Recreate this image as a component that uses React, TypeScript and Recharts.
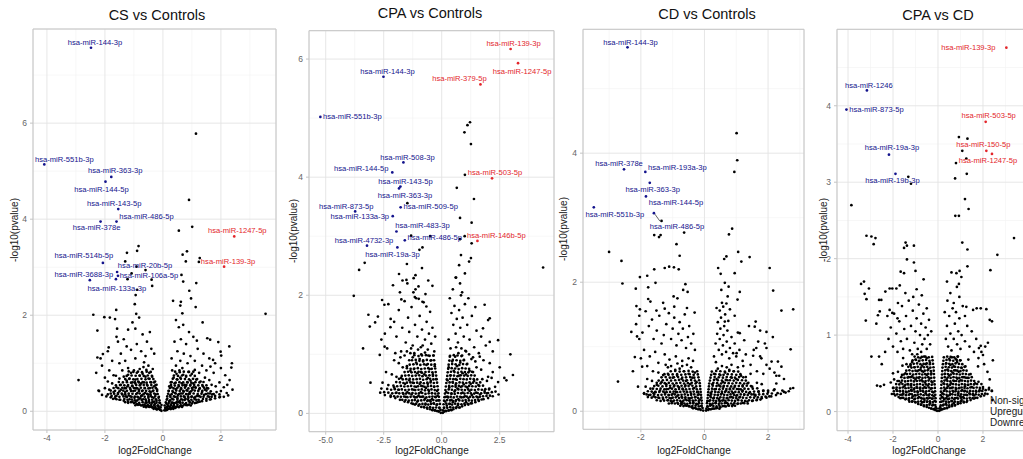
import React from 'react';
import { ScatterChart, Scatter, XAxis, YAxis, CartesianGrid, ReferenceArea } from 'recharts';

type Pt = [number, number];
type Hit = { name: string; fc: number; p: number };

// ---------- CS vs Controls ----------
const csDown: Hit[] = [
  { name: 'hsa-miR-144-3p', fc: -2.48, p: 7.57 },
  { name: 'hsa-miR-551b-3p', fc: -4.09, p: 5.14 },
  { name: 'hsa-miR-363-3p', fc: -1.78, p: 4.88 },
  { name: 'hsa-miR-144-5p', fc: -1.98, p: 4.78 },
  { name: 'hsa-miR-143-5p', fc: -1.54, p: 4.21 },
  { name: 'hsa-miR-486-5p', fc: -1.6, p: 3.95 },
  { name: 'hsa-miR-378e', fc: -2.15, p: 3.95 },
  { name: 'hsa-miR-514b-5p', fc: -2.07, p: 3.09 },
  { name: 'hsa-miR-20b-5p', fc: -1.58, p: 2.9 },
  { name: 'hsa-miR-106a-5p', fc: -1.55, p: 2.82 },
  { name: 'hsa-miR-3688-3p', fc: -2.52, p: 2.73 },
  { name: 'hsa-miR-133a-3p', fc: -1.62, p: 2.75 },
];
const csUp: Hit[] = [
  { name: 'hsa-miR-1247-5p', fc: 2.46, p: 3.64 },
  { name: 'hsa-miR-139-3p', fc: 2.11, p: 3.01 },
];
const csScatter: Pt[] = [
  [1.14,5.78],[0.9,4.4],[1.01,3.84],[0.55,3.76],[-0.84,3.44],[-0.89,3.34],[-1.24,3.3],[0.68,3.26],[0.83,3.33],[0.79,3.12],
  [1.27,3.19],[1.24,3.11],[-1.3,3.12],[-0.91,3.01],[-1.08,2.87],[-0.6,2.94],[-0.39,2.74],[-0.37,2.61],[-1.22,2.75],[-0.89,2.53],
  [-0.94,2.42],[-0.97,2.23],[-1.61,2.11],[-2.4,2.01],[-2.02,1.96],[-1.83,1.95],[-0.92,2.03],[0.64,2.84],[0.7,2.7],[1.15,2.67],
  [0.91,2.51],[0.97,2.35],[0.62,2.28],[1.13,2.17],[0.67,2.04],[1.37,1.85],[-2.26,1.68],[1.53,1.52],[1.63,1.49],[1.17,1.47],
  [1.91,1.44],[2.29,1.35],[-1.87,1.33],[1.99,1.24],[2.01,1.16],[2.38,1.0],[2.36,0.91],[-2.26,1.12],[-2.07,1.19],[-2.91,0.65],
  [-2.22,0.43],[1.97,0.3],[2.22,0.55],[1.64,0.93],[1.73,1.07],[3.54,2.03],
  [-1.65,1.92],[-1.58,1.72],[-1.6,1.55],[-1.55,1.45],[-1.2,1.7],[-1.05,1.85],[-0.95,1.72],[-0.82,1.95],[-0.7,1.6],[-0.55,1.45],
  [-0.45,1.65],[-0.4,1.3],[-1.35,1.5],[-1.25,1.35],[-1.1,1.28],[-0.9,1.4],[-0.75,1.25],[-0.6,1.15],[-1.45,1.2],[-1.75,1.05],
  [-1.9,1.25],[-2.1,0.95],[-2.15,1.1],[-1.5,1.0],[-1.3,1.05],[-0.95,1.1],[-0.65,1.02],[-0.3,1.2],[-0.5,0.95],[-1.85,0.85],
  [-2.3,0.8],[-2.0,0.7],[-1.2,0.9],[-0.8,0.88],[-1.7,0.75],
  [0.35,2.3],[0.6,2.2],[0.45,1.9],[0.55,1.75],[0.7,1.8],[0.9,1.65],[1.05,1.55],[0.62,1.5],[0.4,1.45],[0.8,1.4],
  [1.2,1.3],[0.5,1.25],[0.72,1.2],[0.95,1.15],[1.4,1.2],[1.1,1.05],[0.3,1.1],[0.6,1.05],[0.85,1.0],[1.6,1.1],
  [1.8,1.0],[1.35,0.95],[2.0,0.9],[0.45,0.95],[1.5,0.85],[1.75,0.8],[2.15,0.75],[2.3,0.65],[1.95,0.6],[2.4,0.45],[2.1,0.5],
];
const csCore: Pt[] = [
  [-0.05,0.01],[-0.1,0.03],[-0.15,0.05],[-0.2,0.04],[-0.25,0.06],[-0.3,0.07],[-0.35,0.08],[-0.4,0.09],[-0.45,0.1],[-0.5,0.1],
  [-0.55,0.11],[-0.6,0.12],[-0.7,0.13],[-0.8,0.14],[-0.9,0.15],[-1.0,0.17],[-1.1,0.19],[-1.2,0.2],[-1.35,0.22],[-1.5,0.24],
  [-1.65,0.27],[-1.8,0.29],[-1.95,0.31],[-2.1,0.34],
  [-0.08,0.08],[-0.18,0.12],[-0.28,0.15],[-0.38,0.18],[-0.48,0.2],[-0.58,0.22],[-0.68,0.25],[-0.78,0.27],[-0.88,0.3],[-0.98,0.28],
  [-1.08,0.3],[-1.18,0.33],[-1.28,0.31],[-1.4,0.35],[-1.55,0.38],[-1.7,0.4],[-1.85,0.45],[-2.0,0.48],[-2.2,0.42],
  [-0.12,0.18],[-0.22,0.22],[-0.32,0.28],[-0.42,0.32],[-0.52,0.35],[-0.62,0.38],[-0.72,0.42],[-0.82,0.45],[-0.92,0.48],[-1.02,0.42],
  [-1.12,0.46],[-1.22,0.52],[-1.32,0.48],[-1.45,0.55],[-1.6,0.5],[-1.75,0.58],[-1.9,0.62],
  [-0.15,0.28],[-0.25,0.35],[-0.35,0.42],[-0.45,0.48],[-0.55,0.55],[-0.65,0.6],[-0.75,0.58],[-0.85,0.62],[-0.95,0.66],[-1.05,0.6],
  [-1.15,0.68],[-1.25,0.64],[-1.35,0.72],[-1.5,0.68],[-1.62,0.74],
  [-0.2,0.45],[-0.3,0.52],[-0.4,0.6],[-0.5,0.68],[-0.6,0.72],[-0.7,0.78],[-0.8,0.74],[-0.9,0.8],[-1.0,0.85],[-1.1,0.8],[-1.2,0.76],[-1.4,0.85],
  [-0.27,0.62],[-0.37,0.72],[-0.47,0.8],[-0.57,0.86],[-0.67,0.92],[-0.35,0.88],[-0.22,0.55],[-0.62,0.48],[-0.88,0.38],[-1.05,0.52],
  [-0.72,0.33],[-0.5,0.28],[-0.3,0.2],[-0.42,0.4],[-0.78,0.55],[-0.95,0.58],[-1.3,0.4],[-1.6,0.32],[-1.45,0.45],[-0.15,0.1],
  [-0.6,0.18],[-0.9,0.22],[-1.15,0.25],
  [0.05,0.02],[0.1,0.02],[0.15,0.04],[0.2,0.05],[0.25,0.06],[0.3,0.06],[0.35,0.07],[0.4,0.08],[0.45,0.09],[0.5,0.1],
  [0.6,0.11],[0.7,0.12],[0.8,0.13],[0.9,0.14],[1.0,0.16],[1.1,0.17],[1.2,0.19],[1.35,0.21],[1.5,0.22],[1.65,0.25],
  [1.8,0.27],[1.95,0.29],[2.1,0.3],[2.25,0.33],
  [0.08,0.07],[0.18,0.11],[0.28,0.14],[0.38,0.17],[0.48,0.19],[0.58,0.21],[0.68,0.24],[0.78,0.26],[0.88,0.28],[0.98,0.3],
  [1.08,0.28],[1.18,0.32],[1.3,0.3],[1.42,0.34],[1.55,0.37],[1.7,0.35],[1.85,0.4],[2.0,0.42],[2.2,0.38],
  [0.12,0.16],[0.22,0.21],[0.32,0.26],[0.42,0.3],[0.52,0.34],[0.62,0.37],[0.72,0.41],[0.82,0.44],[0.92,0.4],[1.02,0.45],
  [1.12,0.5],[1.25,0.46],[1.38,0.52],[1.52,0.48],[1.68,0.55],[1.82,0.52],
  [0.15,0.26],[0.25,0.33],[0.35,0.4],[0.45,0.46],[0.55,0.52],[0.65,0.58],[0.75,0.55],[0.85,0.6],[0.95,0.64],[1.05,0.58],
  [1.15,0.66],[1.3,0.62],[1.45,0.7],[1.6,0.65],
  [0.2,0.42],[0.3,0.5],[0.4,0.58],[0.5,0.66],[0.6,0.7],[0.7,0.76],[0.8,0.72],[0.9,0.82],[1.0,0.78],[1.1,0.86],[1.25,0.8],
  [0.27,0.6],[0.37,0.7],[0.47,0.78],[0.57,0.85],[0.67,0.9],[0.32,0.85],[0.22,0.52],[0.62,0.46],[0.88,0.36],[1.05,0.5],
  [0.72,0.31],[0.5,0.27],[0.3,0.18],[0.42,0.38],[0.78,0.52],[0.95,0.55],[1.35,0.4],[1.6,0.3],[1.45,0.45],[0.15,0.09],
  [0.6,0.17],[0.9,0.21],[1.15,0.24],
];
// low-significance bulk of the CS comparison
const csBulk: Pt[] = [
  [-0.22,0.04],[-0.32,0.05],[0.14,0.03],[0.27,0.045],[0.36,0.05],[-0.09,0.03],
  [-0.15,0.07],[-0.26,0.09],[-0.36,0.08],[-0.47,0.09],[-0.58,0.085],[-0.66,0.095],[0.12,0.08],[0.24,0.085],[0.34,0.095],[0.43,0.07],[0.55,0.085],[0.66,0.09],
  [-0.05,0.13],[-0.17,0.12],[-0.3,0.125],[-0.4,0.135],[-0.52,0.13],[-0.64,0.14],[-0.75,0.12],[-0.86,0.135],[-0.95,0.125],
  [0.06,0.12],[0.16,0.135],[0.27,0.12],[0.38,0.13],[0.5,0.14],[0.62,0.125],[0.75,0.145],[0.85,0.13],[0.96,0.12],
  [-0.1,0.17],[-0.22,0.18],[-0.35,0.19],[-0.46,0.17],[-0.56,0.18],[-0.7,0.19],[-0.82,0.175],[-0.95,0.185],[-1.05,0.2],[-1.2,0.175],[-1.3,0.19],
  [0.1,0.185],[0.2,0.17],[0.33,0.18],[0.45,0.175],[0.55,0.19],[0.68,0.18],[0.8,0.17],[0.93,0.185],[1.03,0.2],[1.15,0.18],[1.27,0.2],
  [-0.12,0.23],[-0.24,0.25],[-0.37,0.24],[-0.48,0.235],[-0.6,0.25],[-0.73,0.235],[-0.84,0.245],[-0.97,0.23],[-1.07,0.245],[-1.22,0.24],[-1.33,0.255],[-1.47,0.24],[-1.6,0.25],[-1.72,0.26],
  [0.13,0.24],[0.25,0.23],[0.36,0.245],[0.5,0.24],[0.63,0.25],[0.75,0.235],[0.86,0.245],[0.98,0.24],[1.1,0.25],[1.23,0.24],[1.38,0.255],[1.5,0.26],[1.62,0.245],
  [-0.14,0.3],[-0.27,0.31],[-0.38,0.295],[-0.5,0.31],[-0.63,0.3],[-0.75,0.315],[-0.85,0.29],[-0.97,0.305],[-1.12,0.31],[-1.24,0.295],[-1.36,0.31],[-1.5,0.3],[-1.64,0.31],[-1.77,0.32],[-1.9,0.35],
  [0.15,0.31],[0.26,0.295],[0.38,0.31],[0.5,0.3],[0.62,0.31],[0.75,0.295],[0.87,0.31],[1.0,0.305],[1.12,0.3],[1.25,0.315],[1.4,0.3],[1.55,0.31],[1.68,0.3],[1.8,0.32],[1.95,0.35],
  [-0.18,0.36],[-0.3,0.37],[-0.43,0.355],[-0.55,0.365],[-0.67,0.355],[-0.8,0.37],[-0.92,0.36],[-1.05,0.365],[-1.18,0.37],[-1.3,0.355],[-1.42,0.37],[-1.55,0.36],[-1.68,0.365],[-1.8,0.37],
  [0.18,0.365],[0.3,0.355],[0.44,0.37],[0.56,0.36],[0.68,0.37],[0.8,0.355],[0.93,0.365],[1.06,0.37],[1.2,0.36],[1.33,0.365],[1.48,0.36],[1.62,0.37],[1.75,0.36],
  [-0.2,0.42],[-0.33,0.43],[-0.46,0.415],[-0.58,0.425],[-0.7,0.43],[-0.83,0.42],[-0.96,0.43],[-1.1,0.42],[-1.24,0.425],[-1.37,0.43],[-1.5,0.415],[-1.65,0.425],[-1.8,0.43],
  [0.2,0.425],[0.33,0.42],[0.46,0.43],[0.58,0.42],[0.7,0.425],[0.84,0.43],[0.97,0.415],[1.1,0.43],[1.22,0.42],[1.36,0.425],[1.5,0.43],[1.65,0.415],
  [-0.24,0.48],[-0.36,0.49],[-0.5,0.475],[-0.63,0.485],[-0.76,0.49],[-0.88,0.475],[-1.0,0.485],[-1.14,0.49],[-1.28,0.48],[-1.4,0.49],[-1.54,0.48],[-1.7,0.485],
  [0.24,0.485],[0.37,0.475],[0.5,0.49],[0.63,0.48],[0.76,0.49],[0.88,0.475],[1.0,0.485],[1.13,0.49],[1.27,0.48],[1.42,0.49],[1.56,0.475],
  [-0.26,0.54],[-0.4,0.545],[-0.53,0.535],[-0.66,0.545],[-0.8,0.54],[-0.92,0.545],[-1.06,0.535],[-1.2,0.545],[-1.33,0.54],[-1.48,0.545],[-1.62,0.54],
  [0.28,0.545],[0.41,0.535],[0.54,0.545],[0.68,0.54],[0.81,0.545],[0.94,0.535],[1.08,0.545],[1.22,0.54],[1.36,0.545],[1.5,0.54],
  [-0.3,0.6],[-0.43,0.605],[-0.56,0.595],[-0.7,0.605],[-0.83,0.6],[-0.97,0.605],[-1.1,0.595],[-1.24,0.605],[-1.38,0.6],[-1.52,0.61],
  [0.3,0.605],[0.44,0.595],[0.57,0.605],[0.7,0.6],[0.84,0.605],[0.98,0.595],[1.12,0.605],[1.26,0.6],[1.4,0.61],
  [-0.33,0.67],[-0.46,0.675],[-0.6,0.665],[-0.74,0.675],[-0.88,0.67],[-1.02,0.665],[-1.16,0.675],[-1.3,0.67],
  [0.34,0.675],[0.48,0.665],[0.62,0.675],[0.76,0.67],[0.9,0.665],[1.04,0.675],[1.18,0.67],
  [-0.38,0.74],[-0.52,0.745],[-0.66,0.735],[-0.8,0.745],[-0.94,0.74],[-1.08,0.745],[-1.25,0.735],
  [0.38,0.745],[0.52,0.735],[0.66,0.745],[0.8,0.74],[0.95,0.745],[1.1,0.735],
  [-0.42,0.82],[-0.56,0.825],[-0.72,0.815],[-0.86,0.825],[-1.02,0.82],[-1.18,0.83],
  [0.42,0.825],[0.58,0.815],[0.72,0.825],[0.88,0.82],[1.05,0.825],
];

// ---------- CPA vs Controls ----------
const cpaDown: Hit[] = [
  { name: 'hsa-miR-144-3p', fc: -2.51, p: 5.7 },
  { name: 'hsa-miR-551b-3p', fc: -5.23, p: 5.02 },
  { name: 'hsa-miR-508-3p', fc: -1.65, p: 4.25 },
  { name: 'hsa-miR-144-5p', fc: -2.13, p: 4.08 },
  { name: 'hsa-miR-143-5p', fc: -1.78, p: 3.84 },
  { name: 'hsa-miR-363-3p', fc: -1.84, p: 3.81 },
  { name: 'hsa-miR-509-5p', fc: -1.77, p: 3.49 },
  { name: 'hsa-miR-873-5p', fc: -3.73, p: 3.42 },
  { name: 'hsa-miR-133a-3p', fc: -2.11, p: 3.34 },
  { name: 'hsa-miR-483-3p', fc: -1.95, p: 3.08 },
  { name: 'hsa-miR-486-5p', fc: -1.59, p: 2.93 },
  { name: 'hsa-miR-4732-3p', fc: -3.22, p: 2.84 },
  { name: 'hsa-miR-19a-3p', fc: -1.91, p: 2.81 },
];
const cpaUp: Hit[] = [
  { name: 'hsa-miR-139-3p', fc: 2.97, p: 6.17 },
  { name: 'hsa-miR-1247-5p', fc: 3.29, p: 5.93 },
  { name: 'hsa-miR-379-5p', fc: 1.67, p: 5.57 },
  { name: 'hsa-miR-503-5p', fc: 2.17, p: 3.98 },
  { name: 'hsa-miR-146b-5p', fc: 1.54, p: 2.92 },
];
const cpaScatter: Pt[] = [
  [1.22,4.93],[1.11,4.88],[0.98,4.76],[1.26,4.56],[1.0,4.04],[0.65,3.82],[1.39,3.63],[0.79,3.31],[1.29,3.23],[-1.48,3.56],
  [-1.32,3.01],[-0.5,3.0],[0.79,2.95],[0.99,3.0],[1.29,2.88],[-0.83,2.81],[-0.96,2.77],[0.83,2.68],[-1.5,2.53],[-3.32,2.55],
  [-3.56,2.43],[1.18,2.57],[1.26,2.63],[0.75,2.51],[1.0,2.37],[0.6,2.3],[0.79,2.2],[0.83,2.0],[-0.85,2.46],[-1.13,2.34],
  [-1.84,2.36],[-1.21,2.29],[-1.52,2.26],[-1.69,2.25],[-2.1,2.17],[-0.4,2.16],[-1.13,2.1],[-3.79,1.99],[-1.16,1.97],[-0.99,1.94],
  [-1.74,1.93],[-2.57,1.92],[-2.47,1.84],[-0.83,1.89],[-0.66,1.81],[-3.16,1.67],[-2.75,1.64],[-3.1,1.47],[-2.87,1.54],[1.85,1.84],
  [2.07,1.61],[2.0,1.58],[1.78,1.44],[2.43,1.24],[2.07,1.21],[2.96,1.0],[3.07,0.65],[2.79,0.56],[2.43,0.53],[4.37,2.47],
  [-3.39,1.1],[-3.07,0.52],[-2.67,0.99],[-2.46,1.13],[-2.21,1.46],[1.64,0.96],[2.07,0.85],
  [-2.3,1.85],[-2.2,1.6],[-2.05,1.55],[-1.95,1.3],[-1.85,1.75],[-1.7,1.45],[-1.6,1.9],[-1.55,1.2],[-1.45,1.62],[-1.4,1.38],
  [-1.3,1.8],[-1.25,1.15],[-1.15,1.5],[-1.1,1.95],[-1.05,1.3],[-0.95,1.65],[-0.9,1.12],[-0.85,1.42],[-0.78,1.88],[-0.72,1.25],
  [-0.65,1.55],[-0.6,1.08],[-0.55,1.35],[-0.5,1.72],[-0.45,1.18],[-0.4,1.45],[-0.32,1.05],[-0.28,1.3],[-2.45,1.35],[-2.6,1.25],
  [-2.35,1.1],[-1.75,1.05],[-2.0,1.02],[-1.35,1.02],[-1.0,2.15],[-1.22,2.05],[-0.7,2.02],[-1.8,2.05],[-1.48,2.2],[-0.58,2.25],
  [0.35,1.95],[0.42,1.7],[0.5,1.5],[0.55,1.82],[0.6,1.35],[0.65,1.6],[0.7,1.2],[0.75,1.75],[0.8,1.45],[0.85,1.1],
  [0.9,1.62],[0.95,1.3],[1.0,1.85],[1.05,1.05],[1.1,1.5],[1.2,1.25],[1.3,1.65],[1.4,1.12],[1.5,1.4],[1.6,1.02],
  [1.7,1.3],[1.45,1.8],[0.3,1.25],[0.38,1.1],[0.48,2.1],[0.62,2.3],[0.88,2.05],[1.15,1.95],[1.9,1.15],[2.2,1.05],
  [1.35,0.95],[1.8,0.9],[2.5,0.78],[2.2,0.7],[2.7,0.6],[2.0,0.62],
];
const cpaCore: Pt[] = [
  [-0.04,0.01],[-0.12,0.03],[-0.2,0.04],[-0.3,0.05],[-0.4,0.06],[-0.5,0.07],[-0.62,0.08],[-0.75,0.1],[-0.88,0.11],[-1.0,0.13],
  [-1.15,0.15],[-1.3,0.17],[-1.45,0.19],[-1.6,0.2],[-1.8,0.23],[-2.0,0.26],[-2.2,0.28],[-2.45,0.31],[-2.65,0.35],
  [-0.1,0.1],[-0.22,0.14],[-0.35,0.17],[-0.48,0.2],[-0.6,0.22],[-0.72,0.25],[-0.85,0.28],[-1.0,0.3],[-1.15,0.27],[-1.3,0.32],
  [-1.48,0.36],[-1.65,0.33],[-1.85,0.4],[-2.05,0.44],[-2.3,0.48],[-2.55,0.52],
  [-0.15,0.22],[-0.28,0.28],[-0.42,0.34],[-0.55,0.38],[-0.68,0.43],[-0.82,0.46],[-0.95,0.5],[-1.1,0.45],[-1.25,0.52],[-1.4,0.56],
  [-1.58,0.5],[-1.75,0.6],[-1.95,0.62],[-2.15,0.66],[-2.4,0.7],
  [-0.2,0.38],[-0.33,0.45],[-0.47,0.55],[-0.6,0.6],[-0.75,0.66],[-0.9,0.7],[-1.05,0.68],[-1.2,0.75],[-1.35,0.72],[-1.5,0.8],
  [-1.68,0.78],[-1.85,0.85],[-2.05,0.9],
  [-0.25,0.58],[-0.38,0.66],[-0.52,0.75],[-0.66,0.82],[-0.8,0.88],[-0.95,0.92],[-1.1,0.86],[-1.25,0.95],[-1.4,0.9],[-1.6,0.98],[-1.78,0.95],
  [-0.3,0.8],[-0.45,0.9],[-0.58,0.98],[-0.72,1.03],[-0.88,1.0],[-1.02,1.08],[-1.18,1.02],[-1.32,1.1],[-1.5,1.05],
  [-0.35,0.98],[-0.82,1.15],[-0.6,0.5],[-0.9,0.36],[-1.2,0.4],[-0.42,0.24],[-0.7,0.15],[-1.05,0.2],[-1.55,0.28],[-1.95,0.35],
  [-2.6,0.42],[-0.18,0.3],[-0.05,0.06],
  [0.05,0.01],[0.12,0.03],[0.2,0.04],[0.3,0.05],[0.4,0.06],[0.5,0.07],[0.62,0.09],[0.75,0.1],[0.88,0.12],[1.0,0.14],
  [1.15,0.15],[1.3,0.17],[1.45,0.19],[1.6,0.21],[1.8,0.24],[2.0,0.26],[2.2,0.29],[2.45,0.32],
  [0.1,0.09],[0.22,0.13],[0.35,0.16],[0.48,0.19],[0.6,0.21],[0.72,0.24],[0.85,0.27],[1.0,0.29],[1.15,0.26],[1.3,0.31],
  [1.48,0.35],[1.65,0.32],[1.85,0.38],[2.05,0.42],[2.3,0.45],
  [0.15,0.2],[0.28,0.27],[0.42,0.33],[0.55,0.37],[0.68,0.42],[0.82,0.45],[0.95,0.49],[1.1,0.44],[1.25,0.5],[1.4,0.55],
  [1.58,0.48],[1.75,0.58],[1.95,0.55],[2.15,0.6],
  [0.2,0.36],[0.33,0.44],[0.47,0.53],[0.6,0.58],[0.75,0.64],[0.9,0.68],[1.05,0.66],[1.2,0.72],[1.35,0.7],[1.5,0.78],[1.7,0.74],
  [0.25,0.56],[0.38,0.64],[0.52,0.72],[0.66,0.8],[0.8,0.86],[0.95,0.9],[1.1,0.84],[1.28,0.92],[1.45,0.88],
  [0.3,0.78],[0.45,0.88],[0.58,0.96],[0.72,1.02],[0.88,0.98],[1.02,1.06],[1.18,1.0],
  [0.35,0.96],[0.62,1.12],[0.6,0.48],[0.9,0.35],[1.2,0.38],[0.42,0.23],[0.7,0.14],[1.05,0.19],[1.55,0.27],[1.95,0.34],
  [0.18,0.28],[0.05,0.05],
];
const cpaBulk: Pt[] = [
  [-0.15,0.04],[-0.28,0.05],[-0.4,0.055],[0.16,0.045],[0.3,0.05],[0.42,0.055],
  [-0.1,0.09],[-0.24,0.1],[-0.37,0.095],[-0.5,0.105],[-0.63,0.1],[-0.77,0.11],[0.1,0.1],[0.24,0.095],[0.37,0.105],[0.5,0.1],[0.64,0.11],[0.78,0.1],
  [-0.08,0.16],[-0.2,0.155],[-0.33,0.165],[-0.46,0.16],[-0.58,0.15],[-0.7,0.165],[-0.83,0.16],[-0.96,0.155],[-1.1,0.165],[-1.23,0.16],
  [0.08,0.155],[0.2,0.165],[0.33,0.16],[0.45,0.15],[0.58,0.165],[0.71,0.16],[0.85,0.155],[0.98,0.165],[1.12,0.16],[1.25,0.17],
  [-0.1,0.22],[-0.23,0.215],[-0.36,0.225],[-0.5,0.22],[-0.62,0.21],[-0.75,0.225],[-0.88,0.22],[-1.02,0.215],[-1.16,0.225],[-1.28,0.22],[-1.42,0.215],[-1.56,0.225],[-1.7,0.23],
  [0.1,0.215],[0.23,0.225],[0.36,0.22],[0.49,0.21],[0.62,0.225],[0.76,0.22],[0.9,0.215],[1.03,0.225],[1.17,0.22],[1.3,0.215],[1.44,0.225],[1.58,0.23],[1.72,0.235],
  [-0.12,0.28],[-0.26,0.275],[-0.4,0.285],[-0.53,0.28],[-0.66,0.27],[-0.8,0.285],[-0.93,0.28],[-1.07,0.275],[-1.2,0.285],[-1.34,0.28],[-1.48,0.275],[-1.62,0.285],[-1.76,0.28],[-1.9,0.285],[-2.05,0.29],[-2.2,0.3],
  [0.12,0.275],[0.25,0.285],[0.39,0.28],[0.52,0.27],[0.66,0.285],[0.8,0.28],[0.94,0.275],[1.08,0.285],[1.22,0.28],[1.36,0.275],[1.5,0.285],[1.64,0.28],[1.78,0.29],[1.93,0.295],[2.08,0.3],
  [-0.14,0.34],[-0.28,0.335],[-0.42,0.345],[-0.56,0.34],[-0.7,0.33],[-0.84,0.345],[-0.98,0.34],[-1.12,0.335],[-1.26,0.345],[-1.4,0.34],[-1.54,0.335],[-1.68,0.345],[-1.83,0.34],[-1.98,0.345],[-2.13,0.34],[-2.3,0.35],[-2.48,0.36],
  [0.14,0.335],[0.28,0.345],[0.42,0.34],[0.56,0.33],[0.7,0.345],[0.84,0.34],[0.98,0.335],[1.12,0.345],[1.26,0.34],[1.4,0.335],[1.55,0.345],[1.7,0.34],[1.85,0.35],[2.0,0.345],[2.16,0.36],[2.32,0.37],
  [-0.16,0.4],[-0.3,0.395],[-0.44,0.405],[-0.58,0.4],[-0.72,0.39],[-0.86,0.405],[-1.0,0.4],[-1.14,0.395],[-1.28,0.405],[-1.42,0.4],[-1.57,0.395],[-1.72,0.405],[-1.87,0.4],[-2.02,0.41],[-2.18,0.4],[-2.35,0.415],
  [0.16,0.395],[0.3,0.405],[0.44,0.4],[0.58,0.39],[0.72,0.405],[0.86,0.4],[1.0,0.395],[1.14,0.405],[1.28,0.4],[1.43,0.395],[1.58,0.405],[1.73,0.4],[1.88,0.41],[2.04,0.405],
  [-0.18,0.46],[-0.32,0.455],[-0.46,0.465],[-0.6,0.46],[-0.74,0.45],[-0.88,0.465],[-1.02,0.46],[-1.17,0.455],[-1.32,0.465],[-1.46,0.46],[-1.61,0.455],[-1.76,0.465],[-1.92,0.46],[-2.08,0.47],
  [0.18,0.455],[0.32,0.465],[0.46,0.46],[0.6,0.45],[0.74,0.465],[0.88,0.46],[1.03,0.455],[1.18,0.465],[1.32,0.46],[1.47,0.455],[1.62,0.465],[1.78,0.47],
  [-0.2,0.52],[-0.34,0.515],[-0.48,0.525],[-0.62,0.52],[-0.77,0.51],[-0.91,0.525],[-1.06,0.52],[-1.2,0.515],[-1.35,0.525],[-1.5,0.52],[-1.65,0.515],[-1.8,0.525],[-1.96,0.53],
  [0.2,0.515],[0.34,0.525],[0.48,0.52],[0.62,0.51],[0.77,0.525],[0.91,0.52],[1.06,0.515],[1.2,0.525],[1.35,0.52],[1.5,0.515],[1.66,0.525],
  [-0.22,0.58],[-0.36,0.575],[-0.5,0.585],[-0.65,0.58],[-0.8,0.57],[-0.94,0.585],[-1.08,0.58],[-1.23,0.575],[-1.38,0.585],[-1.53,0.58],[-1.68,0.575],[-1.84,0.585],
  [0.22,0.575],[0.36,0.585],[0.5,0.58],[0.65,0.57],[0.8,0.585],[0.94,0.58],[1.08,0.575],[1.23,0.585],[1.38,0.58],[1.53,0.575],
  [-0.24,0.64],[-0.38,0.635],[-0.53,0.645],[-0.68,0.64],[-0.83,0.63],[-0.97,0.645],[-1.12,0.64],[-1.27,0.635],[-1.42,0.645],[-1.57,0.64],[-1.72,0.635],
  [0.24,0.635],[0.38,0.645],[0.53,0.64],[0.68,0.63],[0.82,0.645],[0.97,0.64],[1.12,0.635],[1.27,0.645],[1.42,0.64],
  [-0.26,0.7],[-0.4,0.695],[-0.55,0.705],[-0.7,0.7],[-0.85,0.69],[-1.0,0.705],[-1.15,0.7],[-1.3,0.695],[-1.45,0.705],[-1.6,0.7],
  [0.26,0.695],[0.4,0.705],[0.55,0.7],[0.7,0.69],[0.85,0.705],[1.0,0.7],[1.15,0.695],[1.3,0.705],
  [-0.28,0.76],[-0.43,0.755],[-0.58,0.765],[-0.73,0.76],[-0.88,0.75],[-1.03,0.765],[-1.18,0.76],[-1.34,0.755],[-1.5,0.765],
  [0.28,0.755],[0.43,0.765],[0.58,0.76],[0.73,0.75],[0.88,0.765],[1.03,0.76],[1.18,0.755],
  [-0.3,0.83],[-0.45,0.825],[-0.6,0.835],[-0.76,0.83],[-0.92,0.82],[-1.07,0.835],[-1.22,0.83],[-1.38,0.825],
  [0.3,0.825],[0.45,0.835],[0.6,0.83],[0.76,0.82],[0.92,0.835],[1.08,0.83],
  [-0.33,0.9],[-0.48,0.895],[-0.64,0.905],[-0.8,0.9],[-0.96,0.89],[-1.12,0.905],[-1.28,0.9],
  [0.33,0.895],[0.48,0.905],[0.64,0.9],[0.8,0.89],[0.96,0.905],
  [-0.36,0.98],[-0.52,0.975],[-0.68,0.985],[-0.85,0.98],[-1.0,0.97],[-1.18,0.985],
  [0.36,0.975],[0.52,0.985],[0.68,0.98],[0.85,0.97],
];

// ---------- CD vs Controls ----------
const cdDown: Hit[] = [
  { name: 'hsa-miR-144-3p', fc: -2.42, p: 5.64 },
  { name: 'hsa-miR-378e', fc: -2.53, p: 3.75 },
  { name: 'hsa-miR-193a-3p', fc: -1.86, p: 3.71 },
  { name: 'hsa-miR-363-3p', fc: -1.72, p: 3.54 },
  { name: 'hsa-miR-144-5p', fc: -1.84, p: 3.33 },
  { name: 'hsa-miR-551b-3p', fc: -3.48, p: 3.16 },
  { name: 'hsa-miR-486-5p', fc: -1.59, p: 3.07 },
];
const cdUp: Hit[] = [];
const cdScatter: Pt[] = [
  [1.01,4.31],[1.03,3.89],[0.94,3.71],[0.87,2.83],[-1.35,2.95],[-1.58,2.73],[-1.43,2.7],[-1.38,2.73],[-0.64,2.77],[-0.88,2.59],
  [-0.78,2.41],[0.77,2.74],[-3.0,2.47],[-2.61,2.33],[-2.58,1.98],[-2.03,2.08],[-1.8,2.1],[-1.58,2.2],[-1.25,2.22],[-1.11,2.24],
  [-0.96,2.23],[-0.81,2.2],[-1.54,1.99],[-2.16,1.9],[-1.77,1.92],[-1.77,1.74],[-0.6,1.97],[-0.67,1.88],[-0.53,1.85],[-0.97,1.78],
  [-1.25,1.59],[-1.51,1.56],[-2.14,1.63],[-2.03,1.58],[-0.31,1.53],[-2.3,1.23],[-2.12,1.16],[-2.19,0.84],[-1.96,0.69],[-2.72,0.46],
  [-2.09,0.38],[-1.9,0.28],[0.43,2.22],[0.51,2.13],[0.64,1.99],[0.76,1.93],[0.53,1.88],[0.73,1.78],[0.69,1.67],[0.59,1.62],
  [0.48,1.56],[0.64,1.39],[0.95,2.14],[1.11,1.85],[1.04,1.73],[1.06,2.47],[1.16,2.32],[1.42,2.39],[0.69,2.4],[0.62,2.36],
  [2.05,2.22],[2.16,1.87],[2.42,1.56],[2.79,1.58],[1.61,1.39],[1.58,1.31],[1.95,1.23],[1.69,1.08],[1.63,0.98],[1.95,0.98],
  [1.53,0.86],[1.79,0.82],[2.11,0.77],[2.31,0.77],[2.42,0.69],[2.71,0.96],[2.26,0.55],[2.26,0.43],[2.79,0.36],[2.7,0.35],
  [1.11,1.21],[1.01,0.9],
  [-2.15,1.35],[-2.05,1.48],[-1.95,1.22],[-1.85,1.55],[-1.75,1.32],[-1.65,1.42],[-1.6,1.12],[-1.5,1.25],[-1.42,1.48],[-1.35,1.05],
  [-1.28,1.18],[-1.2,1.35],[-1.12,1.52],[-1.05,1.12],[-1.0,1.28],[-0.95,1.45],[-0.88,1.02],[-0.82,1.2],[-0.78,1.38],[-0.72,1.1],
  [-0.68,1.28],[-0.62,1.5],[-0.58,0.98],[-0.52,1.15],[-0.48,1.32],[-0.42,1.05],[-0.35,1.2],[-0.3,0.95],[-1.9,0.95],[-2.0,0.82],
  [-1.72,0.85],[-1.55,0.92],[-1.25,0.88],[-1.1,0.8],[-0.9,0.85],[-0.7,0.78],[-0.5,0.82],[-1.45,0.75],[-1.8,0.7],[-2.25,0.62],
  [-1.62,0.62],[-1.15,0.68],[-0.95,1.62],[-1.3,1.68],[-0.85,1.75],[-0.55,1.6],[-1.7,1.7],[-2.05,1.12],
  [0.35,1.05],[0.4,1.2],[0.42,1.38],[0.45,0.95],[0.48,1.12],[0.5,1.28],[0.52,1.45],[0.55,0.88],[0.58,1.02],[0.6,1.18],
  [0.62,1.32],[0.65,1.5],[0.68,0.92],[0.7,1.08],[0.72,1.25],[0.75,1.4],[0.78,0.82],[0.8,0.98],[0.85,1.15],[0.9,0.9],
  [0.95,1.05],[1.0,0.85],[1.05,1.22],[1.1,0.95],[1.2,0.78],[1.3,0.88],[1.45,0.72],[1.55,0.95],[1.65,0.62],[1.75,0.85],
  [1.85,0.58],[1.95,0.72],[2.05,0.66],[2.2,0.6],[2.35,0.55],[2.5,0.5],[0.3,0.85],[0.38,1.6],[0.55,1.68],[0.8,1.58],
  [0.95,1.48],[1.25,1.1],[1.4,1.32],[1.75,1.25],[1.9,1.05],[2.15,1.15],
];
const cdCore: Pt[] = [
  [-0.04,0.01],[-0.12,0.02],[-0.2,0.03],[-0.3,0.05],[-0.4,0.06],[-0.5,0.08],[-0.6,0.09],[-0.72,0.11],[-0.85,0.13],[-1.0,0.15],
  [-1.15,0.17],[-1.3,0.19],[-1.45,0.21],[-1.6,0.23],[-1.75,0.25],[-1.9,0.27],
  [-0.1,0.08],[-0.22,0.11],[-0.35,0.14],[-0.48,0.17],[-0.6,0.19],[-0.72,0.22],[-0.85,0.24],[-1.0,0.27],[-1.12,0.25],[-1.25,0.29],
  [-1.4,0.32],[-1.55,0.3],[-1.7,0.35],[-1.85,0.38],
  [-0.15,0.18],[-0.28,0.22],[-0.42,0.27],[-0.55,0.3],[-0.68,0.34],[-0.8,0.37],[-0.95,0.4],[-1.08,0.36],[-1.2,0.42],[-1.35,0.45],
  [-1.5,0.41],[-1.65,0.47],[-1.8,0.5],
  [-0.2,0.3],[-0.32,0.36],[-0.45,0.42],[-0.58,0.47],[-0.72,0.5],[-0.86,0.55],[-1.0,0.52],[-1.15,0.58],[-1.3,0.56],[-1.45,0.6],
  [-0.25,0.45],[-0.38,0.52],[-0.5,0.58],[-0.65,0.62],[-0.78,0.66],[-0.92,0.64],[-1.05,0.7],[-1.22,0.72],
  [-0.3,0.6],[-0.42,0.68],[-0.55,0.72],[-0.7,0.7],[-0.85,0.74],[-0.36,0.78],
  [-0.6,0.4],[-0.9,0.3],[-1.2,0.34],[-0.45,0.2],[-0.7,0.14],[-1.05,0.2],[-1.6,0.28],[-0.18,0.26],[-0.06,0.05],
  [0.05,0.01],[0.12,0.02],[0.2,0.03],[0.3,0.04],[0.4,0.05],[0.5,0.06],[0.62,0.08],[0.75,0.09],[0.9,0.1],[1.05,0.12],
  [1.2,0.13],[1.35,0.15],[1.5,0.16],[1.65,0.18],[1.8,0.2],[1.95,0.21],[2.1,0.23],[2.25,0.25],[2.4,0.27],[2.55,0.29],
  [0.1,0.07],[0.22,0.1],[0.35,0.13],[0.48,0.15],[0.6,0.17],[0.72,0.2],[0.85,0.22],[1.0,0.24],[1.12,0.22],[1.25,0.26],
  [1.4,0.28],[1.55,0.26],[1.7,0.3],[1.85,0.32],[2.0,0.3],[2.2,0.34],[2.45,0.32],
  [0.15,0.16],[0.28,0.2],[0.42,0.25],[0.55,0.28],[0.68,0.32],[0.8,0.35],[0.95,0.38],[1.08,0.34],[1.2,0.4],[1.35,0.43],
  [1.5,0.38],[1.65,0.44],[1.8,0.42],
  [0.2,0.28],[0.32,0.34],[0.45,0.4],[0.58,0.45],[0.72,0.48],[0.86,0.52],[1.0,0.5],[1.15,0.55],[1.3,0.53],[1.45,0.58],
  [0.25,0.42],[0.38,0.5],[0.5,0.56],[0.65,0.6],[0.78,0.64],[0.92,0.62],[1.05,0.68],[1.22,0.7],
  [0.3,0.58],[0.42,0.66],[0.55,0.7],[0.7,0.68],[0.85,0.72],[0.36,0.76],
  [0.6,0.38],[0.9,0.28],[1.2,0.32],[0.45,0.19],[0.7,0.13],[1.05,0.18],[1.6,0.24],[0.18,0.24],[0.06,0.04],
];
const cdBulk: Pt[] = [
  [-0.15,0.035],[-0.26,0.04],[-0.36,0.045],[0.14,0.035],[0.25,0.04],[0.36,0.045],[0.47,0.04],
  [-0.09,0.08],[-0.18,0.075],[-0.28,0.085],[-0.38,0.08],[-0.47,0.075],[-0.56,0.085],[-0.66,0.08],[-0.76,0.085],
  [0.09,0.075],[0.18,0.085],[0.28,0.08],[0.38,0.075],[0.47,0.085],[0.57,0.08],[0.67,0.075],[0.77,0.085],[0.87,0.08],[0.96,0.085],
  [-0.08,0.12],[-0.17,0.125],[-0.26,0.115],[-0.35,0.12],[-0.45,0.125],[-0.54,0.115],[-0.63,0.12],[-0.73,0.125],[-0.83,0.115],[-0.93,0.12],[-1.03,0.125],[-1.12,0.12],
  [0.08,0.125],[0.17,0.115],[0.26,0.12],[0.35,0.125],[0.45,0.115],[0.54,0.12],[0.64,0.125],[0.74,0.115],[0.84,0.12],[0.94,0.125],[1.04,0.115],[1.14,0.12],[1.25,0.125],[1.36,0.12],
  [-0.09,0.165],[-0.18,0.16],[-0.28,0.17],[-0.37,0.165],[-0.47,0.16],[-0.56,0.17],[-0.66,0.165],[-0.76,0.16],[-0.86,0.17],[-0.96,0.165],[-1.06,0.16],[-1.16,0.17],[-1.27,0.165],[-1.38,0.16],[-1.5,0.17],
  [0.09,0.16],[0.18,0.17],[0.28,0.165],[0.37,0.16],[0.47,0.17],[0.56,0.165],[0.66,0.16],[0.76,0.17],[0.86,0.165],[0.96,0.16],[1.06,0.17],[1.17,0.165],[1.28,0.16],[1.4,0.17],[1.52,0.165],[1.64,0.17],[1.76,0.18],
  [-0.1,0.21],[-0.2,0.205],[-0.3,0.215],[-0.4,0.21],[-0.5,0.205],[-0.6,0.215],[-0.7,0.21],[-0.8,0.205],[-0.9,0.215],[-1.0,0.21],[-1.1,0.205],[-1.2,0.215],[-1.31,0.21],[-1.42,0.205],[-1.54,0.215],[-1.66,0.21],[-1.78,0.22],
  [0.1,0.205],[0.2,0.215],[0.3,0.21],[0.4,0.205],[0.5,0.215],[0.6,0.21],[0.7,0.205],[0.8,0.215],[0.9,0.21],[1.0,0.205],[1.1,0.215],[1.21,0.21],[1.32,0.205],[1.44,0.215],[1.56,0.21],[1.68,0.215],[1.8,0.22],[1.92,0.225],[2.04,0.23],
  [-0.11,0.255],[-0.21,0.25],[-0.32,0.26],[-0.42,0.255],[-0.52,0.25],[-0.62,0.26],[-0.72,0.255],[-0.82,0.25],[-0.93,0.26],[-1.03,0.255],[-1.13,0.25],[-1.24,0.26],[-1.35,0.255],[-1.46,0.25],[-1.58,0.26],[-1.7,0.255],[-1.82,0.26],
  [0.11,0.25],[0.21,0.26],[0.32,0.255],[0.42,0.25],[0.52,0.26],[0.62,0.255],[0.72,0.25],[0.82,0.26],[0.93,0.255],[1.03,0.25],[1.14,0.26],[1.25,0.255],[1.36,0.25],[1.48,0.26],[1.6,0.255],[1.72,0.26],[1.85,0.265],[1.98,0.27],[2.12,0.275],[2.3,0.28],[2.5,0.3],[2.65,0.31],
  [-0.12,0.3],[-0.23,0.295],[-0.34,0.305],[-0.44,0.3],[-0.55,0.295],[-0.65,0.305],[-0.76,0.3],[-0.86,0.295],[-0.97,0.305],[-1.08,0.3],[-1.19,0.295],[-1.3,0.305],[-1.42,0.3],[-1.54,0.295],[-1.66,0.305],[-1.78,0.31],
  [0.12,0.295],[0.23,0.305],[0.34,0.3],[0.44,0.295],[0.55,0.305],[0.65,0.3],[0.76,0.295],[0.86,0.305],[0.97,0.3],[1.08,0.295],[1.19,0.305],[1.31,0.3],[1.43,0.295],[1.56,0.305],[1.7,0.31],[1.85,0.315],[2.0,0.32],[2.18,0.325],
  [-0.13,0.345],[-0.24,0.34],[-0.36,0.35],[-0.47,0.345],[-0.58,0.34],[-0.69,0.35],[-0.8,0.345],[-0.91,0.34],[-1.02,0.35],[-1.14,0.345],[-1.26,0.34],[-1.38,0.35],[-1.5,0.345],[-1.62,0.35],
  [0.13,0.34],[0.24,0.35],[0.36,0.345],[0.47,0.34],[0.58,0.35],[0.69,0.345],[0.8,0.34],[0.91,0.35],[1.02,0.345],[1.14,0.34],[1.26,0.35],[1.38,0.345],[1.52,0.35],[1.66,0.355],
  [-0.14,0.39],[-0.26,0.385],[-0.38,0.395],[-0.5,0.39],[-0.61,0.385],[-0.72,0.395],[-0.84,0.39],[-0.96,0.385],[-1.08,0.395],[-1.2,0.39],[-1.32,0.385],[-1.45,0.395],[-1.58,0.39],
  [0.14,0.385],[0.26,0.395],[0.38,0.39],[0.5,0.385],[0.61,0.395],[0.72,0.39],[0.84,0.385],[0.96,0.395],[1.08,0.39],[1.2,0.385],[1.33,0.395],[1.46,0.39],
  [-0.15,0.435],[-0.28,0.43],[-0.4,0.44],[-0.52,0.435],[-0.64,0.43],[-0.76,0.44],[-0.88,0.435],[-1.0,0.43],[-1.12,0.44],[-1.25,0.435],[-1.38,0.43],[-1.5,0.44],
  [0.15,0.43],[0.28,0.44],[0.4,0.435],[0.52,0.43],[0.64,0.44],[0.76,0.435],[0.88,0.43],[1.0,0.44],[1.12,0.435],[1.25,0.43],[1.38,0.44],
  [-0.17,0.48],[-0.3,0.475],[-0.42,0.485],[-0.55,0.48],[-0.67,0.475],[-0.8,0.485],[-0.92,0.48],[-1.05,0.475],[-1.18,0.485],[-1.31,0.48],[-1.44,0.475],
  [0.17,0.475],[0.3,0.485],[0.42,0.48],[0.55,0.475],[0.67,0.485],[0.8,0.48],[0.92,0.475],[1.05,0.485],[1.18,0.48],[1.3,0.475],
  [-0.19,0.525],[-0.32,0.52],[-0.45,0.53],[-0.58,0.525],[-0.7,0.52],[-0.83,0.53],[-0.96,0.525],[-1.09,0.52],[-1.22,0.53],[-1.35,0.525],
  [0.19,0.52],[0.32,0.53],[0.45,0.525],[0.58,0.52],[0.7,0.53],[0.83,0.525],[0.96,0.52],[1.09,0.53],[1.22,0.525],
  [-0.21,0.57],[-0.34,0.565],[-0.47,0.575],[-0.6,0.57],[-0.73,0.565],[-0.86,0.575],[-1.0,0.57],[-1.13,0.565],[-1.26,0.575],
  [0.21,0.565],[0.34,0.575],[0.47,0.57],[0.6,0.565],[0.73,0.575],[0.86,0.57],[1.0,0.565],[1.13,0.575],
  [-0.23,0.62],[-0.37,0.615],[-0.5,0.625],[-0.64,0.62],[-0.78,0.615],[-0.92,0.625],[-1.06,0.62],
  [0.23,0.615],[0.37,0.625],[0.5,0.62],[0.64,0.615],[0.78,0.625],[0.92,0.62],[1.06,0.615],
];

// ---------- CPA vs CD ----------
const cvcDown: Hit[] = [
  { name: 'hsa-miR-1246', fc: -3.16, p: 4.2 },
  { name: 'hsa-miR-873-5p', fc: -4.07, p: 3.95 },
  { name: 'hsa-miR-19a-3p', fc: -2.18, p: 3.36 },
  { name: 'hsa-miR-19b-3p', fc: -1.89, p: 3.11 },
];
const cvcUp: Hit[] = [
  { name: 'hsa-miR-139-3p', fc: 3.04, p: 4.76 },
  { name: 'hsa-miR-503-5p', fc: 2.12, p: 3.79 },
  { name: 'hsa-miR-150-5p', fc: 2.15, p: 3.41 },
  { name: 'hsa-miR-1247-5p', fc: 2.4, p: 3.37 },
];
const cvcScatter: Pt[] = [
  [0.93,3.59],[1.31,3.57],[1.08,3.41],[1.26,3.31],[0.8,3.25],[1.28,3.11],[0.76,3.05],[-1.32,3.07],[-1.2,2.98],[-3.85,2.7],
  [1.2,2.78],[1.36,2.65],[0.77,2.56],[0.93,2.56],[-3.18,2.3],[-2.96,2.29],[-2.78,2.27],[-2.86,2.19],[-1.44,2.21],[-1.38,2.17],
  [-1.07,2.17],[-1.51,2.14],[1.08,2.21],[1.31,2.12],[1.31,1.9],[2.64,2.05],[3.38,2.27],[2.33,1.85],[-1.38,1.99],[-1.07,1.95],
  [-1.66,1.83],[-1.51,1.81],[-1.0,1.84],[-0.64,1.73],[0.6,1.82],[0.82,1.81],[0.96,1.84],[1.04,1.76],[0.4,1.7],[0.93,1.67],
  [0.84,1.63],[-3.29,1.7],[-3.42,1.67],[-3.07,1.61],[-3.26,1.54],[-3.18,1.47],[-3.21,1.19],[-2.34,1.57],[-2.15,1.61],[-2.03,1.61],
  [-1.85,1.61],[-1.7,1.65],[-2.52,1.46],[-2.62,1.46],[-2.67,1.26],[-2.59,1.31],[-2.74,1.15],[-2.15,1.33],[-2.03,1.29],[-1.8,1.22],
  [-2.96,0.72],[-2.62,0.72],[-2.71,0.34],[-2.56,0.33],[-2.4,0.35],[1.72,1.35],[1.9,1.35],[2.15,1.34],[1.56,1.33],[1.26,1.37],
  [2.3,1.2],[2.4,1.18],[2.22,0.9],[1.9,0.86],[1.93,0.78],[2.0,0.74],[1.82,0.83],[2.44,0.67],[1.78,0.59],[1.93,0.36],
  [2.27,0.31],[2.39,0.27],[2.42,0.15],
  [-2.2,0.95],[-2.1,1.1],[-2.0,0.85],[-1.95,1.28],[-1.85,1.02],[-1.8,0.78],[-1.72,1.18],[-1.65,0.92],[-1.6,1.38],[-1.55,0.82],
  [-1.5,1.08],[-1.42,1.25],[-1.38,0.95],[-1.3,1.45],[-1.25,0.8],[-1.2,1.12],[-1.12,1.32],[-1.05,0.9],[-1.0,1.05],[-0.95,1.22],
  [-0.9,0.82],[-0.85,1.4],[-0.8,1.0],[-0.75,1.15],[-0.7,0.88],[-0.65,1.28],[-0.6,0.95],[-0.55,1.1],[-0.5,0.82],[-0.45,1.0],
  [-0.4,1.2],[-0.35,0.88],[-0.3,1.05],[-2.35,0.78],[-2.5,0.62],[-1.45,1.55],[-1.1,1.5],[-0.72,1.52],[-0.5,1.35],[-1.78,1.42],
  [-2.25,1.25],[-0.95,1.6],[-1.55,0.7],[-1.15,0.75],[-0.75,0.78],
  [0.35,0.95],[0.4,1.12],[0.45,0.85],[0.5,1.25],[0.55,1.02],[0.6,0.8],[0.65,1.35],[0.7,0.95],[0.75,1.15],[0.8,1.3],
  [0.85,0.88],[0.9,1.05],[0.95,1.22],[1.0,0.82],[1.05,1.0],[1.1,1.38],[1.2,0.92],[1.3,1.12],[1.4,0.85],[1.5,1.05],
  [1.6,0.78],[1.7,0.95],[1.8,0.7],[0.3,1.3],[0.42,1.45],[0.55,1.55],[0.7,1.42],[0.95,1.5],[1.2,1.25],[2.05,0.62],
  [2.1,0.85],[2.2,0.52],[1.35,0.68],[0.88,0.72],
];
const cvcCore: Pt[] = [
  [-0.04,0.01],[-0.12,0.02],[-0.2,0.03],[-0.3,0.04],[-0.4,0.05],[-0.5,0.06],[-0.62,0.07],[-0.75,0.09],[-0.88,0.1],[-1.0,0.12],
  [-1.15,0.13],[-1.3,0.15],[-1.45,0.16],[-1.6,0.18],[-1.75,0.19],[-1.9,0.21],[-2.05,0.23],
  [-0.1,0.06],[-0.22,0.09],[-0.35,0.11],[-0.48,0.13],[-0.6,0.15],[-0.72,0.17],[-0.85,0.19],[-1.0,0.21],[-1.12,0.2],[-1.25,0.23],
  [-1.4,0.25],[-1.55,0.24],[-1.7,0.27],[-1.85,0.29],[-2.0,0.31],
  [-0.15,0.14],[-0.28,0.17],[-0.42,0.21],[-0.55,0.24],[-0.68,0.27],[-0.8,0.3],[-0.95,0.32],[-1.08,0.29],[-1.2,0.34],[-1.35,0.36],
  [-1.5,0.33],[-1.65,0.38],[-1.8,0.4],[-1.95,0.42],
  [-0.2,0.25],[-0.32,0.3],[-0.45,0.34],[-0.58,0.38],[-0.72,0.41],[-0.86,0.44],[-1.0,0.42],[-1.15,0.46],[-1.3,0.45],[-1.45,0.5],
  [-1.6,0.48],[-1.78,0.52],
  [-0.25,0.38],[-0.38,0.43],[-0.5,0.48],[-0.65,0.52],[-0.78,0.55],[-0.92,0.53],[-1.05,0.58],[-1.22,0.6],[-1.4,0.62],[-1.58,0.6],
  [-0.3,0.5],[-0.42,0.56],[-0.55,0.62],[-0.7,0.6],[-0.85,0.66],[-1.0,0.68],[-1.15,0.65],
  [-0.36,0.64],[-0.5,0.7],[-0.62,0.72],[-0.78,0.7],[-0.92,0.75],
  [-0.6,0.32],[-0.9,0.25],[-1.2,0.28],[-0.45,0.17],[-0.7,0.12],[-1.05,0.16],[-1.6,0.22],[-0.18,0.2],[-0.06,0.04],[-2.1,0.38],[-2.0,0.5],
  [0.05,0.01],[0.12,0.02],[0.2,0.03],[0.3,0.04],[0.4,0.05],[0.5,0.06],[0.62,0.07],[0.75,0.08],[0.88,0.1],[1.0,0.11],
  [1.15,0.12],[1.3,0.14],[1.45,0.15],[1.6,0.17],[1.75,0.18],[1.9,0.2],[2.05,0.21],[2.2,0.23],
  [0.1,0.06],[0.22,0.08],[0.35,0.1],[0.48,0.12],[0.6,0.14],[0.72,0.16],[0.85,0.18],[1.0,0.2],[1.12,0.19],[1.25,0.22],
  [1.4,0.24],[1.55,0.23],[1.7,0.26],[1.85,0.28],[2.0,0.3],
  [0.15,0.13],[0.28,0.16],[0.42,0.2],[0.55,0.23],[0.68,0.26],[0.8,0.29],[0.95,0.31],[1.08,0.28],[1.2,0.33],[1.35,0.35],
  [1.5,0.32],[1.65,0.37],[1.8,0.39],
  [0.2,0.24],[0.32,0.29],[0.45,0.33],[0.58,0.37],[0.72,0.4],[0.86,0.43],[1.0,0.41],[1.15,0.45],[1.3,0.44],[1.45,0.49],
  [0.25,0.37],[0.38,0.42],[0.5,0.47],[0.65,0.51],[0.78,0.54],[0.92,0.52],[1.05,0.57],[1.22,0.59],
  [0.3,0.49],[0.42,0.55],[0.55,0.61],[0.7,0.59],[0.85,0.65],[1.0,0.67],
  [0.36,0.63],[0.5,0.69],[0.62,0.71],[0.78,0.69],
  [0.6,0.31],[0.9,0.24],[1.2,0.27],[0.45,0.16],[0.7,0.11],[1.05,0.15],[1.6,0.21],[0.18,0.19],[0.06,0.04],[2.3,0.42],[2.4,0.27],
];
const cvcBulk: Pt[] = [
  [-0.16,0.035],[-0.3,0.04],[0.15,0.035],[0.28,0.04],[0.4,0.045],
  [-0.12,0.085],[-0.25,0.08],[-0.38,0.09],[-0.5,0.085],[-0.63,0.08],[-0.76,0.09],[0.12,0.08],[0.25,0.09],[0.38,0.085],[0.5,0.08],[0.63,0.09],[0.76,0.085],
  [-0.1,0.13],[-0.23,0.125],[-0.36,0.135],[-0.49,0.13],[-0.62,0.125],[-0.75,0.135],[-0.88,0.13],[-1.01,0.125],[-1.14,0.135],[-1.27,0.13],
  [0.1,0.125],[0.23,0.135],[0.36,0.13],[0.49,0.125],[0.62,0.135],[0.75,0.13],[0.88,0.125],[1.01,0.135],[1.14,0.13],[1.27,0.125],
  [-0.11,0.175],[-0.24,0.17],[-0.37,0.18],[-0.5,0.175],[-0.63,0.17],[-0.76,0.18],[-0.89,0.175],[-1.02,0.17],[-1.15,0.18],[-1.28,0.175],[-1.41,0.17],[-1.54,0.18],[-1.67,0.175],
  [0.11,0.17],[0.24,0.18],[0.37,0.175],[0.5,0.17],[0.63,0.18],[0.76,0.175],[0.89,0.17],[1.02,0.18],[1.15,0.175],[1.28,0.17],[1.41,0.18],[1.54,0.175],[1.67,0.18],
  [-0.12,0.22],[-0.25,0.215],[-0.38,0.225],[-0.51,0.22],[-0.64,0.215],[-0.77,0.225],[-0.9,0.22],[-1.03,0.215],[-1.16,0.225],[-1.29,0.22],[-1.42,0.215],[-1.55,0.225],[-1.68,0.22],[-1.81,0.225],[-1.95,0.23],
  [0.12,0.215],[0.25,0.225],[0.38,0.22],[0.51,0.215],[0.64,0.225],[0.77,0.22],[0.9,0.215],[1.03,0.225],[1.16,0.22],[1.29,0.215],[1.42,0.225],[1.55,0.22],[1.68,0.225],[1.81,0.22],[1.95,0.23],[2.1,0.235],
  [-0.13,0.265],[-0.26,0.26],[-0.39,0.27],[-0.52,0.265],[-0.65,0.26],[-0.78,0.27],[-0.91,0.265],[-1.04,0.26],[-1.17,0.27],[-1.3,0.265],[-1.43,0.26],[-1.56,0.27],[-1.69,0.265],[-1.82,0.27],[-1.96,0.265],
  [0.13,0.26],[0.26,0.27],[0.39,0.265],[0.52,0.26],[0.65,0.27],[0.78,0.265],[0.91,0.26],[1.04,0.27],[1.17,0.265],[1.3,0.26],[1.43,0.27],[1.56,0.265],[1.69,0.27],[1.83,0.265],[1.97,0.27],[2.12,0.28],[2.26,0.29],
  [-0.14,0.31],[-0.27,0.305],[-0.4,0.315],[-0.53,0.31],[-0.66,0.305],[-0.79,0.315],[-0.92,0.31],[-1.05,0.305],[-1.18,0.315],[-1.31,0.31],[-1.44,0.305],[-1.57,0.315],[-1.7,0.31],[-1.84,0.315],[-1.98,0.31],
  [0.14,0.305],[0.27,0.315],[0.4,0.31],[0.53,0.305],[0.66,0.315],[0.79,0.31],[0.92,0.305],[1.05,0.315],[1.18,0.31],[1.31,0.305],[1.44,0.315],[1.58,0.31],[1.72,0.315],[1.86,0.31],[2.0,0.32],
  [-0.15,0.355],[-0.28,0.35],[-0.41,0.36],[-0.54,0.355],[-0.67,0.35],[-0.8,0.36],[-0.93,0.355],[-1.06,0.35],[-1.19,0.36],[-1.32,0.355],[-1.45,0.35],[-1.58,0.36],[-1.72,0.355],[-1.86,0.36],
  [0.15,0.35],[0.28,0.36],[0.41,0.355],[0.54,0.35],[0.67,0.36],[0.8,0.355],[0.93,0.35],[1.06,0.36],[1.19,0.355],[1.32,0.35],[1.46,0.36],[1.6,0.355],[1.74,0.36],
  [-0.16,0.4],[-0.29,0.395],[-0.42,0.405],[-0.55,0.4],[-0.68,0.395],[-0.81,0.405],[-0.94,0.4],[-1.07,0.395],[-1.2,0.405],[-1.33,0.4],[-1.46,0.395],[-1.6,0.405],[-1.74,0.4],
  [0.16,0.395],[0.29,0.405],[0.42,0.4],[0.55,0.395],[0.68,0.405],[0.81,0.4],[0.94,0.395],[1.07,0.405],[1.2,0.4],[1.33,0.395],[1.47,0.405],[1.61,0.4],
  [-0.17,0.445],[-0.3,0.44],[-0.43,0.45],[-0.56,0.445],[-0.69,0.44],[-0.82,0.45],[-0.95,0.445],[-1.08,0.44],[-1.21,0.45],[-1.35,0.445],[-1.49,0.44],[-1.63,0.45],
  [0.17,0.44],[0.3,0.45],[0.43,0.445],[0.56,0.44],[0.69,0.45],[0.82,0.445],[0.95,0.44],[1.08,0.45],[1.22,0.445],[1.36,0.44],[1.5,0.45],
  [-0.18,0.49],[-0.31,0.485],[-0.44,0.495],[-0.57,0.49],[-0.7,0.485],[-0.83,0.495],[-0.97,0.49],[-1.1,0.485],[-1.24,0.495],[-1.38,0.49],[-1.52,0.485],
  [0.18,0.485],[0.31,0.495],[0.44,0.49],[0.57,0.485],[0.7,0.495],[0.83,0.49],[0.97,0.485],[1.1,0.495],[1.24,0.49],[1.38,0.485],
  [-0.19,0.535],[-0.32,0.53],[-0.46,0.54],[-0.59,0.535],[-0.72,0.53],[-0.86,0.54],[-1.0,0.535],[-1.13,0.53],[-1.27,0.54],[-1.41,0.535],
  [0.19,0.53],[0.32,0.54],[0.46,0.535],[0.59,0.53],[0.72,0.54],[0.86,0.535],[1.0,0.53],[1.13,0.54],[1.27,0.535],
  [-0.2,0.58],[-0.34,0.575],[-0.48,0.585],[-0.62,0.58],[-0.76,0.575],[-0.9,0.585],[-1.04,0.58],[-1.18,0.575],[-1.32,0.585],
  [0.2,0.575],[0.34,0.585],[0.48,0.58],[0.62,0.575],[0.76,0.585],[0.9,0.58],[1.04,0.575],[1.18,0.585],
  [-0.22,0.625],[-0.36,0.62],[-0.5,0.63],[-0.64,0.625],[-0.78,0.62],[-0.93,0.63],[-1.08,0.625],[-1.22,0.62],
  [0.22,0.62],[0.36,0.63],[0.5,0.625],[0.64,0.62],[0.78,0.63],[0.93,0.625],[1.08,0.62],
  [-0.24,0.67],[-0.38,0.665],[-0.53,0.675],[-0.68,0.67],[-0.83,0.665],[-0.98,0.675],[-1.13,0.67],
  [0.24,0.665],[0.38,0.675],[0.53,0.67],[0.68,0.665],[0.83,0.675],[0.98,0.67],
  [-0.26,0.715],[-0.41,0.71],[-0.56,0.72],[-0.72,0.715],[-0.88,0.71],[-1.04,0.72],
  [0.26,0.71],[0.41,0.72],[0.56,0.715],[0.72,0.71],[0.88,0.72],
];

const legendLabels = ['Non-significant', 'Upregulated', 'Downregulated'];

// ---------- styling / layout ----------
const FONT = '"Liberation Sans", Arial, Helvetica, sans-serif';
const BLUE = '#13138c';
const RED = '#e3262b';
const DOT_R = 1.35;

// label placement around each highlighted point: [dx, dy, segEndX?, segEndY?] in px
type Nudge = [number, number, number?, number?];

const csNudge: Record<string, Nudge> = {
  'hsa-miR-144-3p': [4, -5], 'hsa-miR-551b-3p': [20, -5], 'hsa-miR-363-3p': [4, -6],
  'hsa-miR-144-5p': [-4, 8], 'hsa-miR-143-5p': [-4, -6], 'hsa-miR-486-5p': [30, -5],
  'hsa-miR-378e': [-4, 6], 'hsa-miR-514b-5p': [-19, -7], 'hsa-miR-20b-5p': [28, -7],
  'hsa-miR-106a-5p': [31, 0], 'hsa-miR-3688-3p': [-6, -6], 'hsa-miR-133a-3p': [1, 9],
  'hsa-miR-1247-5p': [3, -6], 'hsa-miR-139-3p': [4, -5],
};
const cpaNudge: Record<string, Nudge> = {
  'hsa-miR-139-3p': [3, -6], 'hsa-miR-1247-5p': [4, 8], 'hsa-miR-379-5p': [-21, -6],
  'hsa-miR-144-3p': [4, -5], 'hsa-miR-551b-3p': [32, 0], 'hsa-miR-508-3p': [4, -5],
  'hsa-miR-144-5p': [-31, -4], 'hsa-miR-143-5p': [5, -5], 'hsa-miR-363-3p': [6, 7],
  'hsa-miR-509-5p': [30, -1], 'hsa-miR-873-5p': [-9, -5], 'hsa-miR-133a-3p': [-33, 0],
  'hsa-miR-483-3p': [26, -6], 'hsa-miR-486-5p': [30, -3], 'hsa-miR-4732-3p': [-3, -5],
  'hsa-miR-19a-3p': [-5, 7], 'hsa-miR-146b-5p': [19, -5], 'hsa-miR-503-5p': [3, -6],
};
const cdNudge: Record<string, Nudge> = {
  'hsa-miR-144-3p': [3, -5], 'hsa-miR-378e': [-5, -6], 'hsa-miR-193a-3p': [32, -4],
  'hsa-miR-363-3p': [3, 7], 'hsa-miR-144-5p': [30, 6], 'hsa-miR-551b-3p': [21, 7],
  'hsa-miR-486-5p': [23, 13, 6, 8],
};
const cvcNudge: Record<string, Nudge> = {
  'hsa-miR-139-3p': [-38, 0], 'hsa-miR-1246': [2, -5], 'hsa-miR-873-5p': [30, 0],
  'hsa-miR-503-5p': [3, -6], 'hsa-miR-19a-3p': [3, -7], 'hsa-miR-150-5p': [-3, -6],
  'hsa-miR-1247-5p': [-4, 7], 'hsa-miR-19b-3p': [-3, 7],
};

interface PanelSpec {
  title: string;
  titleX: number;
  titleY: number;
  box: [number, number, number, number]; // plot left, right, top, bottom
  xDomain: [number, number];
  yDomain: [number, number];
  xTicks: number[];
  yTicks: number[];
  xMinor: number[];
  yMinor: number[];
  xFmt?: (v: number) => string;
  yLabelX: number;
  xLabelX: number;
  points: Pt[];
  down: Hit[];
  up: Hit[];
  nudge: Record<string, Nudge>;
}

const panels: PanelSpec[] = [
  {
    title: 'CS vs Controls', titleX: 157, titleY: 15,
    box: [33, 276, 29, 430], xDomain: [-4.48, 3.9], yDomain: [-0.39, 7.96],
    xTicks: [-4, -2, 0, 2], yTicks: [0, 2, 4, 6], xMinor: [-3, -1, 1, 3], yMinor: [1, 3, 5, 7],
    yLabelX: 14, xLabelX: 155,
    points: [...csBulk, ...csCore, ...csScatter], down: csDown, up: csUp, nudge: csNudge,
  },
  {
    title: 'CPA vs Controls', titleX: 430, titleY: 13,
    box: [309.3, 554.3, 30.7, 431.7], xDomain: [-5.72, 4.84], yDomain: [-0.31, 6.48],
    xTicks: [-5, -2.5, 0, 2.5], yTicks: [0, 2, 4, 6], xMinor: [-3.75, -1.25, 1.25, 3.75], yMinor: [1, 3, 5],
    xFmt: (v) => v.toFixed(1),
    yLabelX: 293, xLabelX: 432,
    points: [...cpaBulk, ...cpaCore, ...cpaScatter], down: cpaDown, up: cpaUp, nudge: cpaNudge,
  },
  {
    title: 'CD vs Controls', titleX: 707, titleY: 14,
    box: [583.3, 804.3, 29.3, 429.3], xDomain: [-3.82, 3.13], yDomain: [-0.28, 5.92],
    xTicks: [-2, 0, 2], yTicks: [0, 2, 4], xMinor: [-3, -1, 1, 3], yMinor: [1, 3, 5],
    yLabelX: 563, xLabelX: 694,
    points: [...cdBulk, ...cdCore, ...cdScatter], down: cdDown, up: cdUp, nudge: cdNudge,
  },
  {
    title: 'CPA vs CD', titleX: 938, titleY: 15,
    box: [837.3, 1024, 29.3, 430.7], xDomain: [-4.49, 3.81], yDomain: [-0.25, 5.0],
    xTicks: [-4, -2, 0, 2], yTicks: [0, 1, 2, 3, 4], xMinor: [-3, -1, 1, 3], yMinor: [0.5, 1.5, 2.5, 3.5, 4.5],
    yLabelX: 823, xLabelX: 929,
    points: [...cvcBulk, ...cvcCore, ...cvcScatter], down: cvcDown, up: cvcUp, nudge: cvcNudge,
  },
];

const tickStyle = { fontSize: 8.5, fill: '#666', fontFamily: FONT };

function Volcano({ s }: { s: PanelSpec }) {
  const [L, R, T, B] = s.box;
  const Y_W = 28;
  const X_H = 24;
  const ML = 12;
  const MR = 10;
  const divLeft = L - ML - Y_W;
  const width = R - divLeft + MR;
  const height = 459;

  const other = s.points.map(([fc, p]) => ({ fc, p }));

  const plainDot = (props: any) => (
    <circle cx={props.cx} cy={props.cy} r={DOT_R} fill="#000" />
  );
  const labelled = (color: string) => (props: any) => {
    const { cx, cy, payload } = props;
    const n = s.nudge[payload.name] || [0, -6];
    const [dx, dy, sx, sy] = n;
    return (
      <g>
        {sx !== undefined && sy !== undefined && (
          <line x1={cx + 1} y1={cy + 1} x2={cx + sx} y2={cy + sy} stroke="#222" strokeWidth={0.7} />
        )}
        <circle cx={cx} cy={cy} r={DOT_R} fill={color} />
        <text
          x={cx + dx}
          y={cy + dy}
          textAnchor="middle"
          dominantBaseline="central"
          fontSize={7.6}
          fontFamily={FONT}
          fill={color}
        >
          {payload.name}
        </text>
      </g>
    );
  };

  return (
    <>
      <div style={{ position: 'absolute', left: divLeft, top: 0 }}>
        <ScatterChart
          width={width}
          height={height}
          margin={{ top: T, right: MR, bottom: height - B - X_H, left: ML }}
        >
          <CartesianGrid
            stroke="#f1f1f1"
            strokeWidth={0.6}
            horizontalValues={s.yMinor}
            verticalValues={s.xMinor}
          />
          <CartesianGrid stroke="#e3e3e3" strokeWidth={0.9} />
          <XAxis
            type="number"
            dataKey="fc"
            domain={s.xDomain}
            ticks={s.xTicks}
            interval={0}
            allowDataOverflow
            tickFormatter={s.xFmt}
            tick={tickStyle}
            tickLine={{ stroke: '#c4c4c4' }}
            axisLine={false}
            tickSize={3}
            tickMargin={2}
            height={X_H}
          />
          <YAxis
            type="number"
            dataKey="p"
            domain={s.yDomain}
            ticks={s.yTicks}
            interval={0}
            allowDataOverflow
            tick={tickStyle}
            tickLine={{ stroke: '#c4c4c4' }}
            axisLine={false}
            tickSize={3}
            tickMargin={3}
            width={Y_W}
          />
          <ReferenceArea
            x1={s.xDomain[0]}
            x2={s.xDomain[1]}
            y1={s.yDomain[0]}
            y2={s.yDomain[1]}
            fill="none"
            fillOpacity={0}
            stroke="#c6c6c6"
            strokeWidth={1}
          />
          <Scatter data={other} shape={plainDot} isAnimationActive={false} />
          <Scatter data={s.down} dataKey="p" shape={labelled(BLUE)} isAnimationActive={false} />
          <Scatter data={s.up} dataKey="p" shape={labelled(RED)} isAnimationActive={false} />
        </ScatterChart>
      </div>
      <div
        style={{
          position: 'absolute', left: s.titleX, top: s.titleY, transform: 'translate(-50%, -50%)',
          fontFamily: FONT, fontSize: 14.5, color: '#111', whiteSpace: 'nowrap',
        }}
      >
        {s.title}
      </div>
      <div
        style={{
          position: 'absolute', left: s.xLabelX, top: 450, transform: 'translate(-50%, -50%)',
          fontFamily: FONT, fontSize: 10, color: '#1a1a1a', whiteSpace: 'nowrap',
        }}
      >
        log2FoldChange
      </div>
      <div
        style={{
          position: 'absolute', left: s.yLabelX, top: (T + B) / 2,
          transform: 'translate(-50%, -50%) rotate(-90deg)',
          fontFamily: FONT, fontSize: 10, color: '#1a1a1a', whiteSpace: 'nowrap',
        }}
      >
        -log10(pvalue)
      </div>
    </>
  );
}

export default function App() {
  return (
    <div
      style={{
        position: 'fixed', left: 0, top: 0, width: 1023, height: 459,
        overflow: 'hidden', background: '#fff',
      }}
    >
      {panels.map((s) => (
        <Volcano key={s.title} s={s} />
      ))}
      {legendLabels.map((t, i) => (
        <div
          key={t}
          style={{
            position: 'absolute', left: 990, top: 400 + i * 11, transform: 'translateY(-50%)',
            fontFamily: FONT, fontSize: 10, color: '#1a1a1a', whiteSpace: 'nowrap',
          }}
        >
          {t}
        </div>
      ))}
    </div>
  );
}
